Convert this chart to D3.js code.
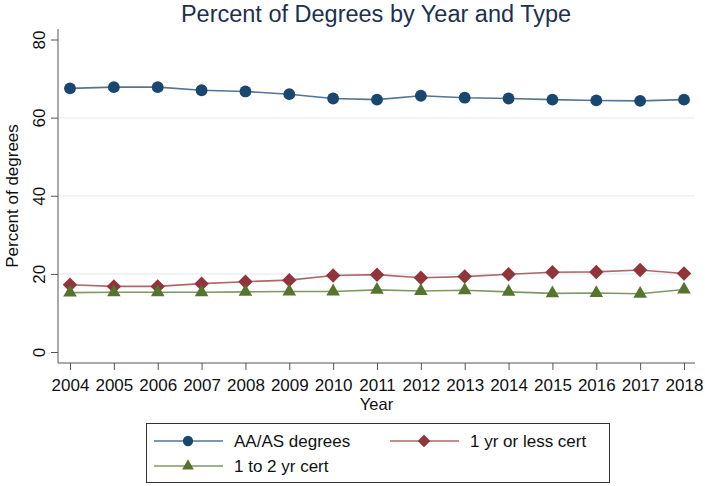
<!DOCTYPE html>
<html>
<head>
<meta charset="utf-8">
<script src="https://cdn.jsdelivr.net/npm/d3@7/dist/d3.min.js"></script>
<style>
  body { margin: 0; background: #fff; }
  text { font-family: "Liberation Sans", Arial, sans-serif; }
</style>
</head>
<body>
<div id="chart"></div>
<script>
var years = [2004, 2005, 2006, 2007, 2008, 2009, 2010, 2011, 2012, 2013, 2014, 2015, 2016, 2017, 2018];
var aaDegrees = [67.5, 67.8, 67.8, 67.0, 66.7, 66.0, 64.9, 64.6, 65.6, 65.1, 64.9, 64.6, 64.4, 64.3, 64.6];
var lessCert = [17.2, 16.8, 16.8, 17.5, 18.0, 18.4, 19.6, 19.8, 19.0, 19.3, 19.9, 20.4, 20.5, 21.0, 20.1];
var twoYrCert = [15.2, 15.3, 15.3, 15.3, 15.4, 15.5, 15.5, 15.9, 15.6, 15.8, 15.4, 15.0, 15.1, 14.9, 16.0];
var yTicks = [0, 20, 40, 60, 80];

// square turned 45 degrees, like the Stata diamond
var squareDiamond = {
  draw: function (ctx, size) {
    var r = Math.sqrt(size / 2);
    ctx.moveTo(0, -r); ctx.lineTo(r, 0); ctx.lineTo(0, r); ctx.lineTo(-r, 0); ctx.closePath();
  }
};

var series = [
  { name: "AA/AS degrees", values: aaDegrees, color: "#1a476f", shape: d3.symbolCircle, size: 110 },
  { name: "1 yr or less cert", values: lessCert, color: "#90353b", shape: squareDiamond, size: 105 },
  { name: "1 to 2 yr cert", values: twoYrCert, color: "#55752f", shape: d3.symbolTriangle, size: 80 }
];

var width = 705, height = 486;
var plotLeft = 58, plotRight = 695, plotTop = 29, plotBottom = 363;

var svg = d3.select("#chart")
  .append("svg")
  .attr("width", width)
  .attr("height", height);

var x = d3.scaleLinear()
  .domain([2004, 2018])
  .range([70, 684]);

var y = d3.scaleLinear()
  .domain([0, 80])
  .range([352, 39.5]);

// grid lines
svg.append("g")
  .selectAll("line")
  .data([20, 40, 60])
  .enter().append("line")
  .attr("x1", plotLeft + 1)
  .attr("x2", plotRight)
  .attr("y1", d => y(d))
  .attr("y2", d => y(d))
  .attr("stroke", "#eaf2f3")
  .attr("stroke-width", 1.5);

// axes
var yAxis = svg.append("g")
  .attr("transform", "translate(" + plotLeft + ",0)")
  .call(d3.axisLeft(y).tickValues(yTicks).tickSize(7));
yAxis.select(".domain").attr("d", "M0," + plotTop + "V" + plotBottom);
yAxis.selectAll(".tick text")
  .attr("transform", "rotate(-90)")
  .attr("x", 0)
  .attr("y", -13)
  .attr("dy", 0)
  .attr("text-anchor", "middle")
  .style("font-size", "17px");

var xAxis = svg.append("g")
  .attr("transform", "translate(0," + plotBottom + ")")
  .call(d3.axisBottom(x).tickValues(years).tickFormat(d3.format("d")).tickSize(7).tickPadding(9));
xAxis.select(".domain").attr("d", "M" + plotLeft + ",0H" + plotRight);
xAxis.selectAll(".tick text").style("font-size", "17px");

svg.selectAll(".domain, .tick line").attr("stroke", "#555");
svg.selectAll(".tick text").attr("fill", "#111");

// titles
svg.append("text")
  .attr("x", 376)
  .attr("y", 21.5)
  .attr("text-anchor", "middle")
  .style("font-size", "23.5px")
  .attr("fill", "#1e3050")
  .text("Percent of Degrees by Year and Type");

svg.append("text")
  .attr("transform", "translate(18," + ((plotTop + plotBottom) / 2) + ") rotate(-90)")
  .attr("text-anchor", "middle")
  .style("font-size", "17px")
  .attr("fill", "#111")
  .text("Percent of degrees");

svg.append("text")
  .attr("x", (plotLeft + plotRight) / 2)
  .attr("y", 410)
  .attr("text-anchor", "middle")
  .style("font-size", "16.5px")
  .attr("fill", "#111")
  .text("Year");

// lines and markers
var line = d3.line()
  .x((d, i) => x(years[i]))
  .y(d => y(d));

series.forEach(function (s) {
  svg.append("path")
    .datum(s.values)
    .attr("fill", "none")
    .attr("stroke", s.color)
    .attr("stroke-opacity", 0.75)
    .attr("stroke-width", 1.6)
    .attr("d", line);

  svg.append("g")
    .selectAll("path")
    .data(s.values)
    .enter().append("path")
    .attr("transform", (d, i) => "translate(" + x(years[i]) + "," + y(d) + ")")
    .attr("d", d3.symbol().type(s.shape).size(s.size))
    .attr("fill", s.color);
});

// legend
var legend = svg.append("g");
legend.append("rect")
  .attr("x", 146.5)
  .attr("y", 423.5)
  .attr("width", 463)
  .attr("height", 59)
  .attr("fill", "#fff")
  .attr("stroke", "#333")
  .attr("stroke-width", 1);

var legendPos = [
  { lx: 154, ty: 441 },
  { lx: 390, ty: 441 },
  { lx: 154, ty: 466 }
];

series.forEach(function (s, i) {
  var p = legendPos[i];
  var g = legend.append("g");
  g.append("line")
    .attr("x1", p.lx).attr("x2", p.lx + 69)
    .attr("y1", p.ty).attr("y2", p.ty)
    .attr("stroke", s.color)
    .attr("stroke-opacity", 0.75)
    .attr("stroke-width", 1.6);
  g.append("path")
    .attr("transform", "translate(" + (p.lx + 34) + "," + p.ty + ")")
    .attr("d", d3.symbol().type(s.shape).size(s.size * 0.75))
    .attr("fill", s.color);
  g.append("text")
    .attr("x", p.lx + 80)
    .attr("y", p.ty + 6)
    .style("font-size", "17px")
    .attr("fill", "#111")
    .text(s.name);
});
</script>
</body>
</html>
